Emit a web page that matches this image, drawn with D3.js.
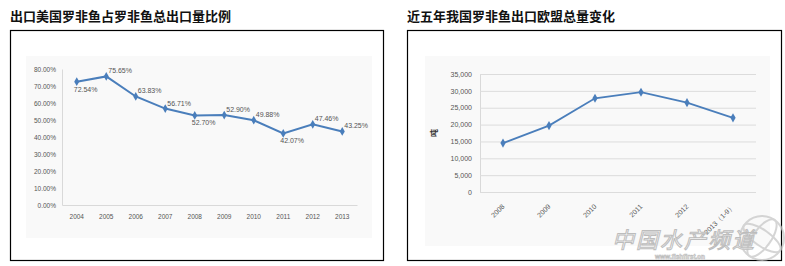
<!DOCTYPE html>
<html>
<head>
<meta charset="utf-8">
<script src="https://cdn.jsdelivr.net/npm/d3@7"></script>
<style>
  body { margin: 0; background: #fff; }
  svg text { font-family: "Liberation Sans", Arial, sans-serif; }
  .title { font-family: "Noto Sans CJK SC", sans-serif !important; font-weight: bold; font-size: 13px; fill: #111; }
  .tick text { fill: #555; font-size: 6.5px; }
  .eu .tick text { font-size: 7px; }
  .lbl { fill: #555; font-size: 7px; }
</style>
</head>
<body>
<svg id="chart" width="785" height="266"></svg>
<script>
// left chart: share of US exports
const shareYears = [`2004`, `2005`, `2006`, `2007`, `2008`, `2009`, `2010`, `2011`, `2012`, `2013`];
const shareValues = [72.54, 75.65, 63.83, 56.71, 52.70, 52.90, 49.88, 42.07, 47.46, 43.25];
const shareTicks = [0, 10, 20, 30, 40, 50, 60, 70, 80];
// label placed above (-1) or below (1) the point
const shareLabelSide = [1, -1, -1, -1, 1, -1, -1, 1, -1, -1];

// right chart: export volume to EU
const euYears = [`2008`, `2009`, `2010`, `2011`, `2012`, `2013（1-9）`];
const euValues = [14500, 19700, 27800, 29600, 26500, 22000];
const euTicks = [0, 5000, 10000, 15000, 20000, 25000, 30000, 35000];

const blue = `#4a7ebb`;
const svg = d3.select(`#chart`);

// titles and frames
svg.append(`text`).attr(`class`, `title`).attr(`x`, 10).attr(`y`, 21).text(`出口美国罗非鱼占罗非鱼总出口量比例`);
svg.append(`text`).attr(`class`, `title`).attr(`x`, 407).attr(`y`, 21).text(`近五年我国罗非鱼出口欧盟总量变化`);
svg.append(`rect`).attr(`x`, 10.5).attr(`y`, 30.5).attr(`width`, 373).attr(`height`, 230)
  .attr(`fill`, `none`).attr(`stroke`, `#000`).attr(`stroke-width`, 1.2);
svg.append(`rect`).attr(`x`, 407.5).attr(`y`, 30.5).attr(`width`, 374).attr(`height`, 230)
  .attr(`fill`, `none`).attr(`stroke`, `#000`).attr(`stroke-width`, 1.2);
svg.append(`rect`).attr(`x`, 26).attr(`y`, 56).attr(`width`, 346).attr(`height`, 182).attr(`fill`, `#f9f9f9`);
svg.append(`rect`).attr(`x`, 425).attr(`y`, 56).attr(`width`, 345).attr(`height`, 190).attr(`fill`, `#f9f9f9`);

// ---- left chart ----
const x1 = d3.scaleBand().domain(shareYears).range([62, 357]);
const y1 = d3.scaleLinear().domain([0, 80]).range([205, 69]);

svg.append(`g`).attr(`transform`, `translate(62,0)`)
  .call(d3.axisLeft(y1).tickValues(shareTicks).tickSize(0).tickPadding(6).tickFormat((d) => d3.format(`.2f`)(d) + `%`))
  .call((g) => g.select(`.domain`).attr(`stroke`, `#d9d9d9`));
svg.append(`g`).attr(`transform`, `translate(0,205)`)
  .call(d3.axisBottom(x1).tickSize(0).tickPadding(9))
  .call((g) => g.select(`.domain`).attr(`stroke`, `#d9d9d9`));

const line1 = d3.line().x((d, i) => x1(shareYears[i]) + x1.bandwidth() / 2).y((d) => y1(d));
svg.append(`path`).datum(shareValues).attr(`d`, line1)
  .attr(`fill`, `none`).attr(`stroke`, blue).attr(`stroke-width`, 2);
svg.append(`g`).selectAll(`path`).data(shareValues).enter().append(`path`)
  .attr(`d`, d3.symbol(d3.symbolDiamond, 22))
  .attr(`transform`, (d, i) => `translate(${x1(shareYears[i]) + x1.bandwidth() / 2},${y1(d)})`)
  .attr(`fill`, blue);
svg.append(`g`).selectAll(`text`).data(shareValues).enter().append(`text`)
  .attr(`class`, `lbl`)
  .attr(`x`, (d, i) => x1(shareYears[i]) + x1.bandwidth() / 2 + (shareLabelSide[i] < 0 ? 2 : -3))
  .attr(`y`, (d, i) => y1(d) + (shareLabelSide[i] < 0 ? -3 : 10))
  .text((d) => d3.format(`.2f`)(d) + `%`);

// ---- right chart ----
const x2 = d3.scaleBand().domain(euYears).range([480, 756]);
const y2 = d3.scaleLinear().domain([0, 35000]).range([192, 74]);

svg.append(`g`).attr(`class`, `eu`).attr(`transform`, `translate(480,0)`)
  .call(d3.axisLeft(y2).tickValues(euTicks).tickSize(-276).tickPadding(8).tickFormat(d3.format(`,`)))
  .call((g) => g.select(`.domain`).attr(`stroke`, `#d9d9d9`))
  .call((g) => g.selectAll(`.tick line`).attr(`stroke`, `#dcdcdc`));
svg.append(`g`).attr(`class`, `eu`).attr(`transform`, `translate(0,192)`)
  .call(d3.axisBottom(x2).tickSize(0).tickPadding(0))
  .call((g) => g.select(`.domain`).remove())
  .call((g) => g.selectAll(`.tick text`)
    .attr(`text-anchor`, `end`).attr(`dy`, 0)
    .attr(`transform`, `translate(2,15) rotate(-45)`));

svg.append(`text`).attr(`transform`, `translate(437,133) rotate(-90)`)
  .attr(`text-anchor`, `middle`).attr(`font-size`, 8).attr(`font-weight`, `bold`)
  .attr(`fill`, `#333`).style(`font-family`, `"Noto Sans CJK SC", sans-serif`).text(`吨`);

const line2 = d3.line().x((d, i) => x2(euYears[i]) + x2.bandwidth() / 2).y((d) => y2(d));
svg.append(`path`).datum(euValues).attr(`d`, line2)
  .attr(`fill`, `none`).attr(`stroke`, blue).attr(`stroke-width`, 1.8);
svg.append(`g`).selectAll(`path`).data(euValues).enter().append(`path`)
  .attr(`d`, d3.symbol(d3.symbolDiamond, 24))
  .attr(`transform`, (d, i) => `translate(${x2(euYears[i]) + x2.bandwidth() / 2},${y2(d)})`)
  .attr(`fill`, blue);

// watermark
const wm = svg.append(`g`).attr(`opacity`, 0.75);
const globe = wm.append(`g`).attr(`transform`, `translate(762,238)`)
  .attr(`fill`, `none`).attr(`stroke`, `#c8c8c8`).attr(`stroke-width`, 2);
globe.append(`circle`).attr(`r`, 22);
globe.append(`ellipse`).attr(`rx`, 9).attr(`ry`, 22).attr(`transform`, `rotate(35)`);
globe.append(`ellipse`).attr(`rx`, 22).attr(`ry`, 8).attr(`transform`, `rotate(35)`);
wm.append(`text`).attr(`x`, 612).attr(`y`, 248)
  .style(`font-family`, `"Noto Sans CJK SC", sans-serif`).attr(`font-size`, 22).attr(`font-style`, `italic`)
  .attr(`fill`, `#fff`).attr(`fill-opacity`, 0.6).attr(`stroke`, `#a8a8a8`).attr(`stroke-width`, 1)
  .attr(`textLength`, 142).text(`中国水产频道`);
wm.append(`text`).attr(`x`, 655).attr(`y`, 259)
  .attr(`font-size`, 6.5).attr(`font-weight`, `bold`)
  .attr(`fill`, `#fff`).attr(`stroke`, `#a8a8a8`).attr(`stroke-width`, 0.6)
  .text(`www.fishfirst.cn`);
</script>
</body>
</html>
